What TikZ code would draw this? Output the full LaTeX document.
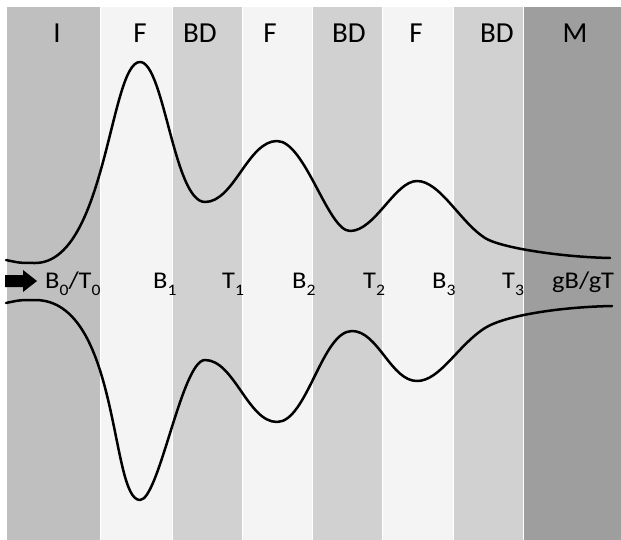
\documentclass[tikz,border=0pt]{standalone}
\usepackage{fontspec}
\setmainfont{Carlito}
\definecolor{cI}{HTML}{BFBFBF}
\definecolor{cF}{HTML}{F4F4F4}
\definecolor{cBD}{HTML}{D1D1D1}
\definecolor{cM}{HTML}{9E9E9E}
\newcommand{\sbs}[1]{\raisebox{-0.3em}{\fontsize{16}{16}\selectfont #1}}
\tikzset{
  band/.style={draw=white, line width=1pt},
  toplab/.style={anchor=base, font=\fontsize{29}{29}\selectfont, inner sep=0pt},
  botlab/.style={anchor=base west, font=\fontsize{24}{24}\selectfont, inner sep=0pt, xscale=1.1},
  wave/.style={line width=2.5pt, black, line cap=round, line join=round}
}
\begin{document}
\begin{tikzpicture}[x=1pt,y=-1pt]
\useasboundingbox (0,0) rectangle (621,540);
\fill[white] (0,0) rectangle (621,540);
% bands
\path[band, fill=cI]  (6,7) rectangle (100,541);
\path[band, fill=cF]  (100,7) rectangle (172,541);
\path[band, fill=cBD] (172,7) rectangle (242,541);
\path[band, fill=cF]  (242,7) rectangle (312,541);
\path[band, fill=cBD] (312,7) rectangle (382,541);
\path[band, fill=cF]  (382,7) rectangle (453,541);
\path[band, fill=cBD] (453,7) rectangle (523,541);
\path[band, fill=cM]  (523,7) rectangle (622,541);
% top labels
\node[toplab] (lI) at (57,43) {I};
\node[toplab] (lF1) at (140,43) {F};
\node[toplab] (lBD1) at (200,43) {BD};
\node[toplab] (lF2) at (270,43) {F};
\node[toplab] (lBD2) at (349,43) {BD};
\node[toplab] (lF3) at (416,43) {F};
\node[toplab] (lBD3) at (497,43) {BD};
\node[toplab] (lM) at (575,43) {M};
% upper curve
\draw[wave] (6,260) .. controls (20,263) .. (35,263)
  .. controls (106,263) and (110,62) .. (140,62)
  .. controls (164,62) and (174,202) .. (205,202)
  .. controls (234,202) and (248,141) .. (277,141)
  .. controls (305,141) and (328,231) .. (350,231)
  .. controls (375,231) and (395,181) .. (417,181)
  .. controls (440,181) and (460,222) .. (485,238)
  .. controls (500,247.6) and (560,257) .. (610,258);
% lower curve
\draw[wave] (6,303) .. controls (20,300) .. (35,300)
  .. controls (120,300) and (110,500) .. (140,500)
  .. controls (159,500) and (182,360) .. (205,360)
  .. controls (234,360) and (248,422) .. (277,422)
  .. controls (307,422) and (322,331) .. (352,331)
  .. controls (378,331) and (391,381) .. (417,381)
  .. controls (440,381) and (458,345) .. (485,328)
  .. controls (505,315.4) and (560,307) .. (612,306);
% arrow
\fill[black] (5,275) -- (23,275) -- (23,270) -- (37,281) -- (23,292) -- (23,287) -- (5,287) -- cycle;
\coordinate (arrtip) at (37,281);
% bottom labels
\node[botlab] (b0) at (45,288) {B\sbs{0}/T\sbs{0}};
\node[botlab] (b1) at (153,288) {B\sbs{1}};
\node[botlab] (t1) at (222,288) {T\sbs{1}};
\node[botlab] (b2) at (292,288) {B\sbs{2}};
\node[botlab] (t2) at (363,288) {T\sbs{2}};
\node[botlab] (b3) at (432,288) {B\sbs{3}};
\node[botlab] (t3) at (502,288) {T\sbs{3}};
\node[botlab] (g) at (552,288) {gB/gT};
\end{tikzpicture}
\end{document}
